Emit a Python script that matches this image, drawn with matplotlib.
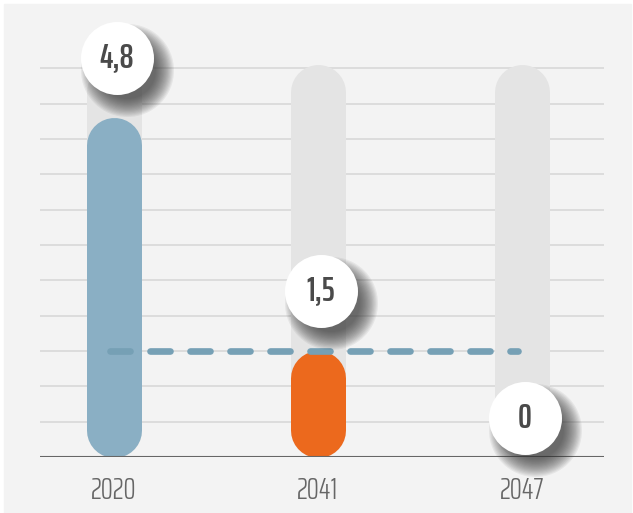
import matplotlib
matplotlib.use("Agg")
import matplotlib.pyplot as plt
from matplotlib.patches import Rectangle
from matplotlib.transforms import offset_copy

years = ["2020", "2041", "2047"]
values = [4.8, 1.5, 0.0]
value_labels = ["4,8", "1,5", "0"]
target = 1.5
track_max = 5.55

BG = "#f3f3f3"
BLUE = "#8aafc4"
ORANGE = "#ec691d"
TRACK = "#e4e4e4"
DASH = "#76a0b5"
TEXT = "#4a4a4a"
bar_colors = [BLUE, ORANGE, BLUE]

plt.rcParams["font.family"] = ["Saira ExtraCondensed", "DejaVu Sans"]

fig = plt.figure(figsize=(6.33, 5.13), dpi=100)
fig.patch.set_facecolor("white")
fig.patches.append(Rectangle((4 / 633, 0), 627 / 633, 509 / 513,
                             transform=fig.transFigure, color=BG, zorder=-10))

ax = fig.add_axes([40 / 633, 56 / 513, 564 / 633, 437 / 513])
ax.set_facecolor("none")
px_per_unit = 70.7
ax.set_ylim(0, 437 / px_per_unit)
ax.set_xlim(-0.3627, 2.402)

# grid
for g in [0.5 * i for i in range(1, 12)]:
    ax.axhline(g, color="#dcdcdc", lw=1.4, zorder=1)
ax.axhline(0, color="#666666", lw=1.5, zorder=6)

bar_w_px = 55
lw_pt = bar_w_px * 72 / 100
r = (bar_w_px / 2) / px_per_unit

# background tracks and bars with round caps
for i, v in enumerate(values):
    ax.plot([i, i], [r, track_max - r], color=TRACK, lw=lw_pt,
            solid_capstyle="round", zorder=2)
    if v > 0:
        ax.plot([i, i], [r, v - r], color=bar_colors[i], lw=lw_pt,
                solid_capstyle="round", zorder=3)

# dashed target line
ax.plot([-0.02, 1.98], [target, target], color=DASH, lw=4.8,
        dashes=(3.0, 3.0), dash_capstyle="round", zorder=4)

# bubbles
bubble_r = 36.5
for i, (v, lab) in enumerate(zip(values, value_labels)):
    y = v + 0.85 if v > 0 else 0.55
    x = i + 0.015
    # blurred shadow
    for k in range(16):
        rr = bubble_r + 10 - k * 1.2
        tr = offset_copy(ax.transData, fig, x=10, y=-12, units="dots")
        ax.scatter([x], [y], s=(2 * rr * 0.72) ** 2, color="#333333",
                   alpha=0.07, lw=0, transform=tr, zorder=7, clip_on=False)
    ax.scatter([x], [y], s=(2 * bubble_r * 0.72) ** 2, color="white",
               lw=0, zorder=8, clip_on=False)
    ax.text(x, y, lab, ha="center", va="center", fontsize=25,
            fontweight=600, color=TEXT, zorder=9)

ax.set_xticks(range(len(years)))
ax.set_xticklabels(years, fontsize=22, fontweight=300, color="#666666")
ax.tick_params(axis="x", length=0, pad=14)
ax.set_yticks([])
for s in ax.spines.values():
    s.set_visible(False)

fig.savefig("out.png", dpi=100, facecolor=fig.get_facecolor())
